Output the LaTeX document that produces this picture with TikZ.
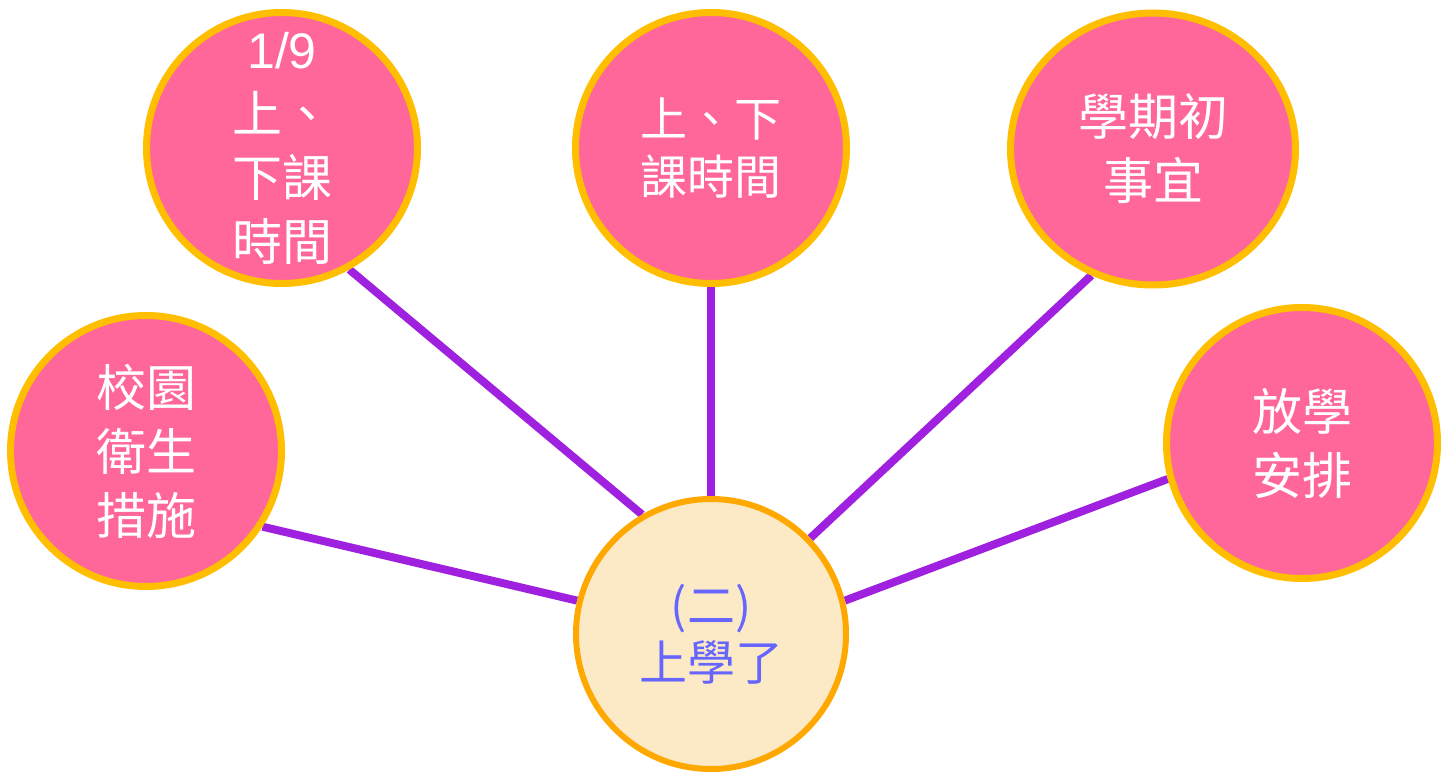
\documentclass[tikz,border=0pt]{standalone}
\usepackage{fontspec}
\setmainfont{Noto Sans CJK TC}
\newfontfamily\latinfont{Liberation Sans}
\usetikzlibrary{shapes.geometric}
\definecolor{pinkfill}{HTML}{FF6699}
\definecolor{amber}{HTML}{FFBF00}
\definecolor{centerfill}{HTML}{FCE9C6}
\definecolor{centerline}{HTML}{FFA800}
\definecolor{linkcol}{HTML}{A020E0}
\definecolor{bluetext}{HTML}{6666FF}
\pgfdeclarelayer{background}
\pgfsetlayers{background,main}
\begin{document}
\begin{tikzpicture}[x=1pt,y=-1pt,
  topic/.style={circle, draw=amber, line width=7pt, fill=pinkfill, minimum size=271pt, inner sep=0pt, text=white, align=center, font=\fontsize{50}{64}\selectfont},
  hub/.style={circle, draw=centerline, line width=6pt, fill=centerfill, minimum size=270pt, inner sep=0pt, text=bluetext, align=center, font=\fontsize{48}{57}\selectfont},
  link/.style={draw=linkcol, line width=8pt}]
\useasboundingbox (0,0) rectangle (1441,773);
\node[hub] (hub) at (711,634) {(二)\\上學了};
\node[topic] (hygiene) at (146,451) {校園\\衛生\\措施};
\node[topic] (jan9) at (282,148) {{\latinfont 1/9}\\上、\\下課\\時間};
\node[topic, font=\fontsize{47}{58}\selectfont] (bell) at (711,148) {上、下\\課時間};
\node[topic, ellipse, minimum width=285pt, minimum height=272pt] (term) at (1153,149) {學期初\\事宜};
\node[topic] (dismiss) at (1302,443) {放學\\安排};
\begin{pgfonlayer}{background}
\fill[white] (0,0) rectangle (1441,773);
\draw[link] (hygiene.-33.6) -- (hub.166.4);
\draw[link] (jan9.-61.2) -- (hub.120.4);
\draw[link] (bell.south) -- (hub.north);
\draw[link] (term.-116) -- (hub.44);
\draw[link] (dismiss.-165) -- (hub.14.1);
\end{pgfonlayer}
\end{tikzpicture}
\end{document}
